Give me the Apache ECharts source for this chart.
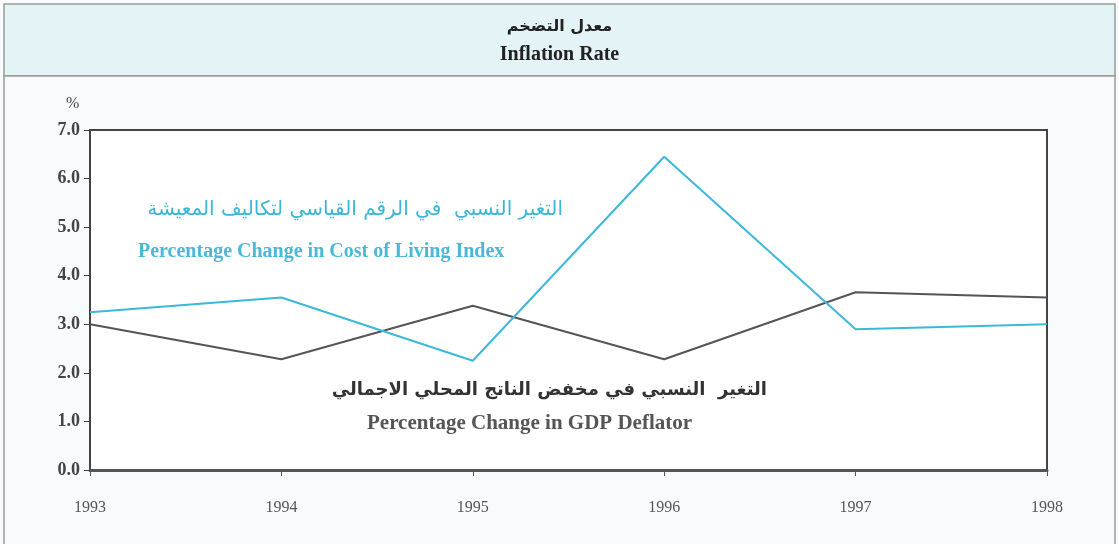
<!DOCTYPE html>
<html lang="ar">
<head>
  <meta charset="UTF-8">
  <title>Inflation Rate</title>
  <script src="https://cdn.jsdelivr.net/npm/echarts@6/dist/echarts.min.js"></script>
  <style>
    html, body {
      margin: 0;
      padding: 0;
      width: 100%;
      height: 100%;
      background: #f7fbfc;
    }
    #main {
      width: 1119px;
      height: 544px;
    }
  </style>
</head>
<body>
  <div id="main"></div>
  <script>
    const years = ['1993', '1994', '1995', '1996', '1997', '1998'];
    const costOfLiving = [3.25, 3.55, 2.25, 6.45, 2.9, 3.0];
    const gdpDeflator = [3.0, 2.28, 3.38, 2.28, 3.66, 3.55];
    const yTicks = ['0.0', '1.0', '2.0', '3.0', '4.0', '5.0', '6.0', '7.0'];

    const chart = echarts.init(document.getElementById('main'));
    const serif = "'Liberation Serif', 'DejaVu Serif', serif";
    const arabic = "'DejaVu Sans', sans-serif";

    const option = {
      backgroundColor: '#f7fbfc',
      animation: false,
      graphic: [
        // title band
        { type: 'rect', z: -10, shape: { x: 4, y: 4, width: 1111, height: 72 },
          style: { fill: '#e4f3f6', stroke: '#9a9a9a', lineWidth: 1.5 } },
        { type: 'rect', z: -10, shape: { x: 4, y: 76, width: 1111, height: 470 },
          style: { fill: '#f8fbfc', stroke: '#9a9a9a', lineWidth: 1.5 } },
        { type: 'text', left: 'center', top: 19,
          style: { text: 'معدل التضخم', font: 'bold 16px ' + arabic, fill: '#222' } },
        { type: 'text', left: 'center', top: 45,
          style: { text: 'Inflation Rate', font: 'bold 20px ' + serif, fill: '#222' } },
        { type: 'text', left: 66, top: 96,
          style: { text: '%', font: '16px ' + serif, fill: '#444' } },
        // series annotations
        { type: 'text', right: 1119 - 563, top: 200,
          style: { text: 'التغير النسبي  في الرقم القياسي لتكاليف المعيشة', font: '20px ' + arabic, fill: '#3cb6d6' } },
        { type: 'text', left: 138, top: 242,
          style: { text: 'Percentage Change in Cost of Living Index', font: 'bold 20px ' + serif, fill: '#4ab9d6' } },
        { type: 'text', right: 1119 - 767, top: 381,
          style: { text: 'التغير  النسبي في مخفض الناتج المحلي الاجمالي', font: 'bold 18px ' + arabic, fill: '#333' } },
        { type: 'text', left: 367, top: 413,
          style: { text: 'Percentage Change in GDP Deflator', font: 'bold 21px ' + serif, fill: '#555' } }
      ],
      grid: {
        left: 90,
        right: 72,
        top: 130,
        bottom: 74,
        show: true,
        backgroundColor: '#ffffff',
        borderColor: '#444',
        borderWidth: 2
      },
      xAxis: {
        type: 'category',
        data: years,
        boundaryGap: false,
        axisLine: { lineStyle: { color: '#555', width: 3 } },
        axisTick: { show: true, inside: false, length: 6, lineStyle: { color: '#555' } },
        axisLabel: { margin: 30, fontFamily: serif, fontSize: 16, color: '#555' },
        splitLine: { show: false }
      },
      yAxis: {
        type: 'value',
        min: 0,
        max: 7,
        interval: 1,
        axisLine: { show: true, lineStyle: { color: '#444', width: 2 } },
        axisTick: { show: true, length: 6, lineStyle: { color: '#444' } },
        axisLabel: {
          margin: 10,
          fontFamily: serif,
          fontSize: 18,
          fontWeight: 'bold',
          color: '#444',
          formatter: v => yTicks[Math.round(v)]
        },
        splitLine: { show: false }
      },
      series: [
        {
          name: 'Percentage Change in Cost of Living Index',
          type: 'line',
          data: costOfLiving,
          symbol: 'none',
          lineStyle: { color: '#3cb8d9', width: 2 },
          z: 3
        },
        {
          name: 'Percentage Change in GDP Deflator',
          type: 'line',
          data: gdpDeflator,
          symbol: 'none',
          lineStyle: { color: '#555555', width: 2 },
          z: 2
        }
      ]
    };

    chart.setOption(option);
  </script>
</body>
</html>
